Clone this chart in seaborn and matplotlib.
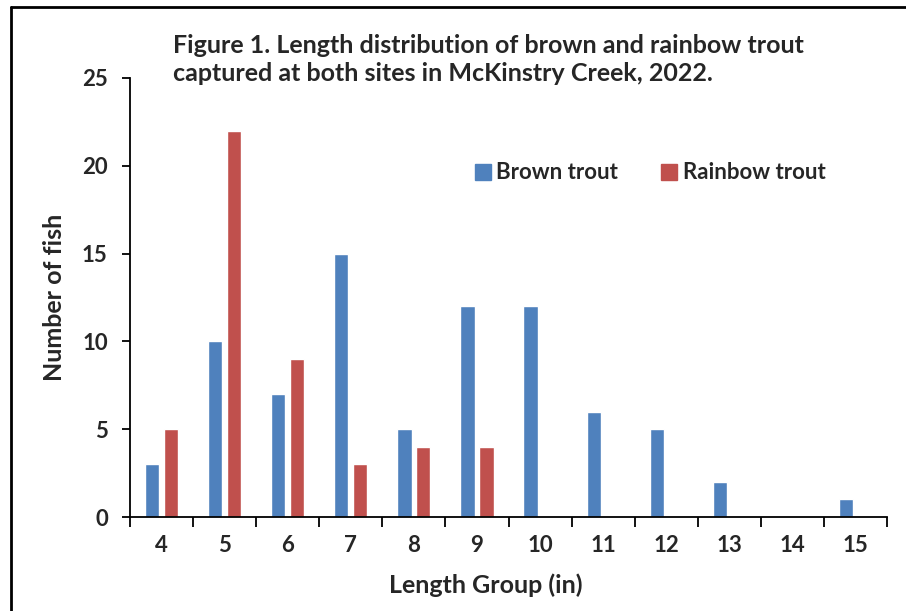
import numpy as np
import pandas as pd
import matplotlib.pyplot as plt
from matplotlib.lines import Line2D
import seaborn as sns

sns.set_style("white")
plt.rcParams['font.family'] = ['Lato', 'DejaVu Sans']
plt.rcParams['font.weight'] = 'bold'

# Data
length_groups = [4, 5, 6, 7, 8, 9, 10, 11, 12, 13, 14, 15]
brown_trout = [3, 10, 7, 15, 5, 12, 12, 6, 5, 2, 0, 1]
rainbow_trout = [5, 22, 9, 3, 4, 4, 0, 0, 0, 0, 0, 0]

df = pd.DataFrame({
    'Length': length_groups * 2,
    'Count': brown_trout + rainbow_trout,
    'Species': ['Brown trout'] * len(length_groups) + ['Rainbow trout'] * len(length_groups),
})

fig = plt.figure(figsize=(9.06, 6.11), dpi=100)
ax = fig.add_axes([130 / 906, 94 / 611, 757 / 906, 439 / 611])

sns.barplot(data=df, x='Length', y='Count', hue='Species',
            palette={'Brown trout': '#4F81BD', 'Rainbow trout': '#C0504D'},
            saturation=1, width=0.6, gap=0.25, ax=ax, legend=False)

ax.set_xlim(-0.5, len(length_groups) - 0.5)
ax.set_ylim(0, 25)
ax.set_yticks([0, 5, 10, 15, 20, 25])

# category labels between tick marks, Excel style
ax.set_xticks(np.arange(-0.5, len(length_groups), 1.0))
ax.set_xticklabels([])
ax.set_xticks(np.arange(len(length_groups)), minor=True)
ax.set_xticklabels([str(v) for v in length_groups], minor=True)
ax.tick_params(axis='x', which='major', bottom=True, direction='out', length=7, width=1.3, color='black')
ax.tick_params(axis='x', which='minor', bottom=False, length=0, pad=13, labelsize=16)
ax.tick_params(axis='y', left=True, direction='out', length=6, width=1.3, color='black', labelsize=16, pad=10)
for lab in ax.get_xticklabels(minor=True) + ax.get_yticklabels():
    lab.set_fontweight('bold')

for s in ['top', 'right']:
    ax.spines[s].set_visible(False)
for s in ['left', 'bottom']:
    ax.spines[s].set_color('black')
    ax.spines[s].set_linewidth(1.3)

ax.set_xlabel('Length Group (in)', fontsize=18, fontweight='bold')
ax.set_ylabel('Number of fish', fontsize=18, fontweight='bold')
ax.xaxis.set_label_coords(0.470, -0.128)
ax.yaxis.set_label_coords(-0.084, 0.5)

fig.text(173 / 906, 1 - 34 / 611,
         'Figure 1. Length distribution of brown and rainbow trout\ncaptured at both sites in McKinstry Creek, 2022.',
         fontsize=18, fontweight='bold', ha='left', va='top', linespacing=1.25)

handles = [Line2D([], [], marker='s', linestyle='none', markersize=11, color='#4F81BD'),
           Line2D([], [], marker='s', linestyle='none', markersize=11, color='#C0504D')]
ax.legend(handles, ['Brown trout', 'Rainbow trout'], ncol=2, frameon=False,
          loc='center left', bbox_to_anchor=(452 / 906, 1 - 173 / 611),
          bbox_transform=fig.transFigure, prop={'size': 16, 'weight': 'bold'},
          handletextpad=0.1, columnspacing=1.8, handlelength=1.0)

# outer frame (left and top edges only)
fig.add_artist(Line2D([11 / 906, 11 / 906], [0, 1 - 7 / 611], color='black', lw=2))
fig.add_artist(Line2D([11 / 906, 1], [1 - 7 / 611, 1 - 7 / 611], color='black', lw=2))

plt.savefig('out.png', dpi=100)
